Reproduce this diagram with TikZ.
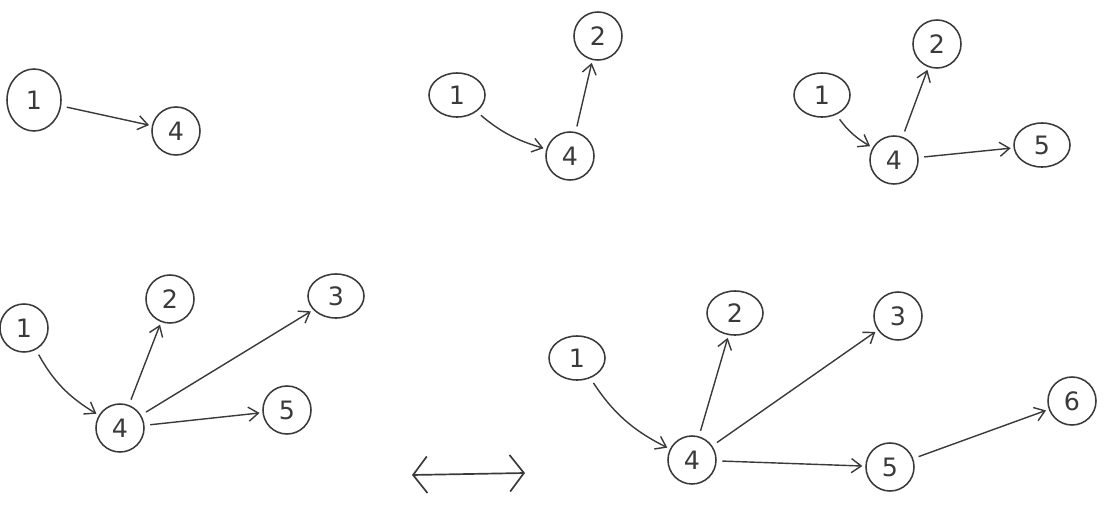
\documentclass[tikz,border=0pt]{standalone}
\usetikzlibrary{arrows.meta,shapes.geometric}
\usepackage{fontspec}
\newfontfamily\digitfont{DejaVu Sans}
\definecolor{ink}{HTML}{3A3A3A}
\begin{document}
\begin{tikzpicture}[x=0.025cm,y=-0.025cm,
  vtx/.style={draw=ink,circle,line width=1.1pt,minimum size=1.2cm,inner sep=0pt,
    text=ink,font=\digitfont\fontsize{18}{22}\selectfont},
  bigvtx/.style={vtx,ellipse,minimum width=1.35cm,minimum height=1.55cm},
  wide/.style={vtx,ellipse,minimum width=1.4cm,minimum height=1.1cm},
  edge/.style={draw=ink,line width=1pt,-{Straight Barb[length=7pt,width=10pt]},
    shorten >=2pt,shorten <=4pt},
  dbl/.style={draw=ink,line width=1.2pt,
    {Straight Barb[length=10pt,width=26pt]}-{Straight Barb[length=10pt,width=26pt]}}]
\useasboundingbox (0,0) rectangle (1107,506);
% graph A
\node[bigvtx] (a1) at (34,100) {1};
\node[vtx] (a4) at (176,131) {4};
\draw[edge] (a1) -- (a4);
% graph B
\node[wide] (b1) at (457,95) {1};
\node[vtx] (b2) at (598,36) {2};
\node[vtx] (b4) at (570,156) {4};
\draw[edge] (b1) to[bend right=12] (b4);
\draw[edge] (b4) -- (b2);
% graph C
\node[wide] (c1) at (822,95) {1};
\node[vtx] (c2) at (937,44) {2};
\node[vtx] (c4) at (894,160) {4};
\node[wide] (c5) at (1042,145) {5};
\draw[edge] (c1) to[bend right=12] (c4);
\draw[edge] (c4) -- (c2);
\draw[edge] (c4) -- (c5);
% graph D
\node[vtx] (d1) at (24,328) {1};
\node[vtx] (d2) at (170,299) {2};
\node[wide] (d3) at (336,296) {3};
\node[vtx] (d4) at (120,428) {4};
\node[vtx] (d5) at (287,410) {5};
\draw[edge] (d1) to[bend right=15] (d4);
\draw[edge] (d4) -- (d2);
\draw[edge] (d4) -- (d3);
\draw[edge] (d4) -- (d5);
% graph E
\node[wide] (e1) at (577,358) {1};
\node[wide] (e2) at (735,313) {2};
\node[vtx] (e3) at (898,316) {3};
\node[vtx] (e4) at (692,460) {4};
\node[vtx] (e5) at (890,467) {5};
\node[vtx] (e6) at (1072,401) {6};
\draw[edge] (e1) to[bend right=15] (e4);
\draw[edge] (e4) -- (e2);
\draw[edge] (e4) -- (e3);
\draw[edge] (e4) -- (e5);
\draw[edge] (e5) -- (e6);
% double arrow
\coordinate (dl) at (412,475);
\coordinate (dr) at (525,473);
\draw[dbl] (dl) -- (dr);
\end{tikzpicture}
\end{document}
